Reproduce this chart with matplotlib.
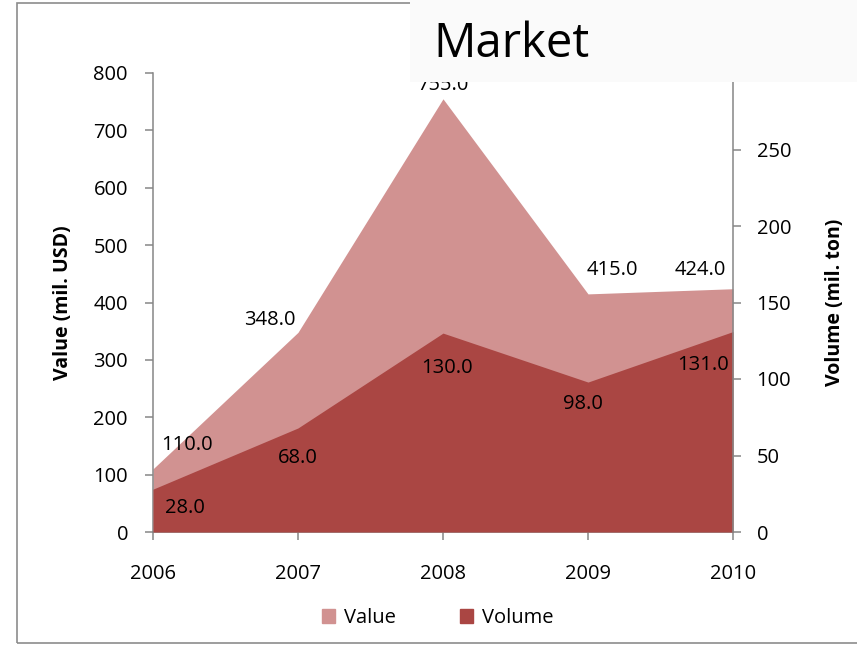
import matplotlib.pyplot as plt
from matplotlib.patches import Rectangle, Patch

years = ['2006', '2007', '2008', '2009', '2010']
value_usd = [110.0, 348.0, 755.0, 415.0, 424.0]
volume_ton = [28.0, 68.0, 130.0, 98.0, 131.0]

# label nudges in pixels (dx, dy), Excel-style placement
value_off = [(34, 24), (-28, 12), (0, 14), (24, 24), (-33, 19)]
volume_off = [(32, -19), (0, -30), (4, -35), (-5, -22), (-30, -33)]

c_value = '#D19291'
c_volume = '#AA4643'
c_axis = '#868686'

plt.rcParams['font.family'] = ['Open Sans', 'DejaVu Sans']
fs = 14.5

fig = plt.figure(figsize=(8.57, 6.45), dpi=100)
ax = fig.add_axes([153/857, 1-532/645, (733-153)/857, (532-73)/645])
ax2 = ax.twinx()

x = list(range(len(years)))
ax.fill_between(x, value_usd, 0, color=c_value, lw=0)
ax2.fill_between(x, volume_ton, 0, color=c_volume, lw=0)

ax.set_xlim(0, len(years)-1)
ax.set_ylim(0, 800)
ax2.set_ylim(0, 300)
ax.set_yticks(range(0, 801, 100))
ax2.set_yticks(range(0, 301, 50))
ax.set_xticks(x)
ax.set_xticklabels(years)

for a in (ax, ax2):
    for s in a.spines.values():
        s.set_color(c_axis)
        s.set_linewidth(1.1)
    a.spines['top'].set_visible(False)
ax.spines['right'].set_visible(False)
ax2.spines['left'].set_visible(False)
ax2.spines['bottom'].set_visible(False)

ax.tick_params(axis='y', direction='out', length=6, width=1.1, color=c_axis, labelsize=fs, pad=12)
ax.tick_params(axis='x', direction='out', length=6, width=1.1, color=c_axis, labelsize=fs, pad=17)
ax2.tick_params(axis='y', direction='out', length=6, width=1.1, color=c_axis, labelsize=fs, pad=11)

ax.set_ylabel('Value (mil. USD)', fontsize=14, fontweight='bold', labelpad=15)
ax2.set_ylabel('Volume (mil. ton)', fontsize=14, fontweight='bold', labelpad=24)

for i in x:
    ax2.annotate('%.1f' % value_usd[i], (i, value_usd[i]), xycoords=ax.transData,
                 xytext=value_off[i], textcoords='offset pixels',
                 ha='center', va='center', fontsize=fs)
    ax2.annotate('%.1f' % volume_ton[i], (i, volume_ton[i]), xycoords=ax2.transData,
                 xytext=volume_off[i], textcoords='offset pixels',
                 ha='center', va='center', fontsize=fs)

handles = [Patch(color=c_value, label='Value'), Patch(color=c_volume, label='Volume')]
fig.legend(handles=handles, loc='center', bbox_to_anchor=(0.511, 1-618/645), ncol=2,
           frameon=False, fontsize=fs, handlelength=0.65, handleheight=0.65,
           handletextpad=0.45, columnspacing=3.2)

# outer chart frame
fig.add_artist(Rectangle((17/857, 2/645), 1.1, 640/645, transform=fig.transFigure,
                         fill=False, edgecolor='#8c8c8c', lw=1.2, zorder=1))

# slide title box sitting over the top of the chart
fig.add_artist(Rectangle((410/857, 1-82/645), 1, 82/645, transform=fig.transFigure,
                         facecolor='#fafafa', edgecolor='none', zorder=10))
fig.text(433/857, 1-57/645, 'Market', fontsize=34, va='baseline', ha='left', zorder=11)

fig.savefig('out.png', dpi=100)
